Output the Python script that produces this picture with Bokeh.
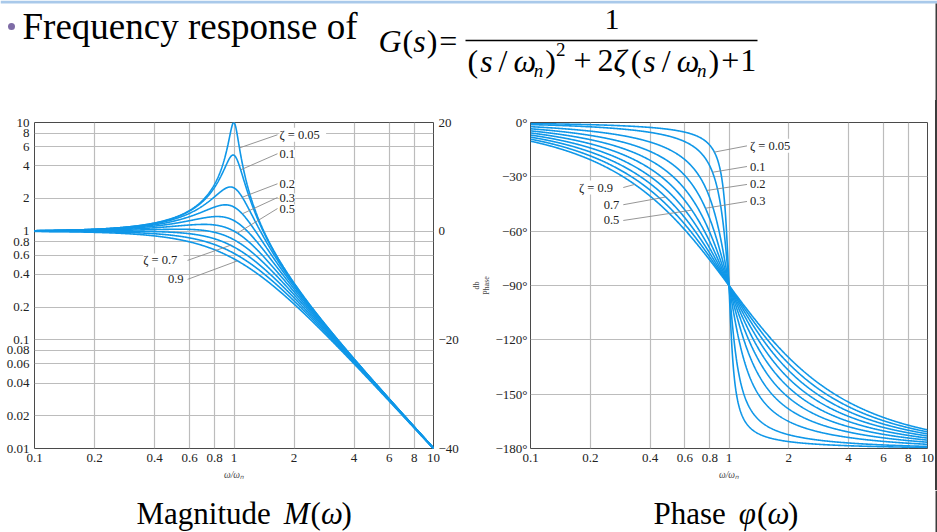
import numpy as np
from bokeh.plotting import figure
from bokeh.layouts import column, row
from bokeh.models import (Range1d, FixedTicker, LinearAxis, LinearScale,
                          CustomJSTickFormatter, Label, ColumnDataSource, Spacer)
from bokeh.core.properties import value
from bokeh.embed import file_html
from bokeh.resources import INLINE

# ---- data -------------------------------------------------------------
zetas = [0.05, 0.1, 0.2, 0.3, 0.4, 0.5, 0.6, 0.7, 0.8, 0.9]
freq_ticks = [0.1, 0.2, 0.4, 0.6, 0.8, 1, 2, 4, 6, 8, 10]
mag_ticks = [0.01, 0.02, 0.04, 0.06, 0.08, 0.1, 0.2, 0.4, 0.6, 0.8, 1, 2, 4, 6, 8, 10]
db_ticks = [-40, -20, 0, 20]
phase_ticks = [-180, -150, -120, -90, -60, -30, 0]

# callouts: damping ratio, text, frequency where the leader meets the curve
mag_right_zeta = [0.05, 0.1, 0.2, 0.3, 0.5]
mag_right_text = ["ζ  =  0.05", "0.1", "0.2", "0.3", "0.5"]
mag_right_w = [1.065, 1.08, 1.1, 1.1, 1.04]
mag_left_zeta = [0.7, 0.9]
mag_left_text = ["ζ  =  0.7", "0.9"]
mag_left_w = [0.961, 1.041]

ph_right_zeta = [0.05, 0.1, 0.2, 0.3]
ph_right_text = ["ζ  =  0.05", "0.1", "0.2", "0.3"]
ph_right_w = [0.844, 0.826, 0.773, 0.761]
ph_left_zeta = [0.9, 0.7, 0.5]
ph_left_text = ["ζ  =  0.9", "0.7", "0.5"]
ph_left_w = [0.335, 0.48, 0.65]

FONT = "Liberation Serif"
BLUE = "#0f97e8"
GRID = "#bcbcbc"
LEADER = "#8a8a8a"
EDGE = "#3c3c3c"
TICK_SIZE = "13px"


def mag(z, w):
    w = np.asarray(w, dtype=float)
    return 1.0 / np.sqrt((1 - w ** 2) ** 2 + (2 * z * w) ** 2)


def phase(z, w):
    w = np.asarray(w, dtype=float)
    return -np.degrees(np.arctan2(2 * z * w, 1 - w ** 2))


w = np.logspace(-1, 1, 900)

fmt_plain = CustomJSTickFormatter(code="return tick.toString();")
fmt_db = CustomJSTickFormatter(code="return tick < 0 ? '−' + (-tick) : '' + tick;")
fmt_deg = CustomJSTickFormatter(code="return (tick < 0 ? '−' + (-tick) : '' + tick) + '°';")


def style_axes(p):
    p.title.visible = False
    for ax in p.axis:
        ax.axis_line_color = None
        ax.major_tick_line_color = None
        ax.minor_tick_line_color = None
        ax.major_tick_out = 0
        ax.major_tick_in = 0
        ax.minor_tick_out = 0
        ax.minor_tick_in = 0
        ax.major_label_text_font = FONT
        ax.major_label_text_font_size = TICK_SIZE
        ax.major_label_text_color = "#222222"
        ax.major_label_standoff = 5
    p.grid.grid_line_color = GRID
    p.grid.grid_line_width = 1.2
    p.outline_line_color = "#4a4a4a"
    p.outline_line_width = 1
    p.background_fill_color = "white"
    p.border_fill_color = "white"


def freq_label(ax):
    ax.axis_label = "ω/ωₙ"
    ax.axis_label_text_font = FONT
    ax.axis_label_text_font_size = "9.5px"
    ax.axis_label_text_font_style = "italic"
    ax.axis_label_standoff = 5


def callouts(p, zs, texts, ws, anchor_x, anchor_ys, fn, offset, align):
    x0 = list(ws)
    y0 = [float(fn(z, wv)) for z, wv in zip(zs, ws)]
    x1 = [anchor_x] * len(zs)
    p.segment(x0=x0, y0=y0, x1=x1, y1=anchor_ys, line_color=LEADER, line_width=0.9)
    for t, ay in zip(texts, anchor_ys):
        p.add_layout(Label(x=anchor_x, y=ay, text=t, x_offset=offset,
                           text_align=align, text_baseline="middle",
                           text_font=FONT, text_font_size="12.5px",
                           text_color="#222222",
                           background_fill_color="white"))


# ---- magnitude ----------------------------------------------------------
pm = figure(x_axis_type="log", y_axis_type="log",
            x_range=Range1d(0.1, 10), y_range=Range1d(0.01, 10),
            width=468, height=390,
            min_border_left=34, min_border_right=35,
            min_border_top=22, min_border_bottom=42,
            toolbar_location=None, output_backend="svg")
pm.xaxis.ticker = FixedTicker(ticks=freq_ticks)
pm.yaxis.ticker = FixedTicker(ticks=mag_ticks)
pm.xaxis.formatter = fmt_plain
pm.yaxis.formatter = fmt_plain
pm.xgrid.ticker = FixedTicker(ticks=freq_ticks)
pm.ygrid.ticker = FixedTicker(ticks=mag_ticks)
pm.extra_y_ranges = {"db": Range1d(-40, 20)}
pm.extra_y_scales = {"db": LinearScale()}
db_axis = LinearAxis(y_range_name="db", ticker=FixedTicker(ticks=db_ticks), formatter=fmt_db)
pm.add_layout(db_axis, "right")
freq_label(pm.xaxis[0])
style_axes(pm)

pm.multi_line(xs=[w] * len(zetas), ys=[mag(z, w) for z in zetas],
              line_color=BLUE, line_width=1.6)

callouts(pm, mag_right_zeta, mag_right_text, mag_right_w, 1.652,
         [7.71, 5.16, 2.73, 2.04, 1.615], mag, 2, "left")
callouts(pm, mag_left_zeta, mag_left_text, mag_left_w, 0.585,
         [0.5385, 0.36], mag, -4, "right")

# ---- phase --------------------------------------------------------------
pp = figure(x_axis_type="log",
            x_range=Range1d(0.1, 10), y_range=Range1d(-180, 0),
            width=467, height=390,
            min_border_left=61, min_border_right=8,
            min_border_top=22, min_border_bottom=42,
            toolbar_location=None, output_backend="svg")
pp.xaxis.ticker = FixedTicker(ticks=freq_ticks)
pp.yaxis.ticker = FixedTicker(ticks=phase_ticks)
pp.xaxis.formatter = fmt_plain
pp.yaxis.formatter = fmt_deg
pp.xgrid.ticker = FixedTicker(ticks=freq_ticks)
pp.ygrid.ticker = FixedTicker(ticks=phase_ticks)
freq_label(pp.xaxis[0])
pp.yaxis.axis_label = "db\nPhase"
pp.yaxis.axis_label_text_font = FONT
pp.yaxis.axis_label_text_font_size = "8px"
pp.yaxis.axis_label_text_font_style = "normal"
pp.yaxis.axis_label_standoff = 1
style_axes(pp)
pp.yaxis.major_label_standoff = 3

pp.multi_line(xs=[w] * len(zetas), ys=[phase(z, w) for z in zetas],
              line_color=BLUE, line_width=1.6)

callouts(pp, ph_right_zeta, ph_right_text, ph_right_w, 1.232,
         [-12.9, -24.3, -34.2, -43.6], phase, 3, "left")
callouts(pp, ph_left_zeta, ph_left_text, ph_left_w, 0.2934,
         [-35.9, -45.4, -54.1], phase, -4, "right")

# ---- text runs for the heading and captions ------------------------------
REG = {" ": 250, "(": 333, ")": 333, "/": 278, "+": 564, "=": 564, "1": 500,
       "2": 500, "•": 350}
ITA = {"G": 722, "s": 389, "n": 500, "M": 833, "ω": 667, "ζ": 440, "φ": 560}
LIFT = 0.31  # glyph baseline correction, in em


def layout_runs(x, runs):
    """runs: (text, italic, size, baseline_y, gap_after) -> rows for a text glyph."""
    rows = dict(x=[], y=[], text=[], style=[], size=[])
    for text, italic, size, y, gap in runs:
        rows["x"].append(x)
        rows["y"].append(y - LIFT * size)
        rows["text"].append(text)
        rows["style"].append("italic" if italic else "normal")
        rows["size"].append(f"{size}px")
        table = ITA if italic else REG
        x += sum(table.get(ch, REG.get(ch, 500)) for ch in text) / 1000 * size + gap
    return rows


def blank(width, height, y0, y1):
    f = figure(width=width, height=height, x_range=Range1d(0, width),
               y_range=Range1d(y1, y0), min_border=0,
               x_axis_location=None, y_axis_location=None,
               toolbar_location=None, output_backend="svg")
    f.title.visible = False
    f.grid.visible = False
    f.outline_line_color = None
    f.background_fill_color = "white"
    return f


def draw_runs(f, rows):
    f.text(x="x", y="y", text="text", source=ColumnDataSource(rows),
           text_font=value(FONT), text_font_size="size", text_font_style="style",
           text_color="black", text_baseline="alphabetic")


head = blank(937, 100, 0, 100)
head.quad(left=0, right=937, top=0, bottom=3, fill_color="#a9c9ea", line_color=None)
head.quad(left=935, right=937, top=3, bottom=100, fill_color=EDGE, line_color=None)
head.scatter(x=[11], y=[26], size=7, marker="circle", fill_color="#7e6ca6", line_color=None)
draw_runs(head, layout_runs(22, [("Frequency response of", False, 37, 37, 0)]))

BASE = 70
S, SS = 32, 19
draw_runs(head, layout_runs(378, [("G", True, 32, 50, 1), ("(", False, 32, 50, 0),
                                  ("s", True, 32, 50, 1), (")", False, 32, 50, 2),
                                  ("=", False, 32, 50, 0)]))
draw_runs(head, layout_runs(467, [("(", False, S, BASE, 2), ("s", True, S, BASE, 6),
                                  ("/", False, S, BASE, 6), ("ω", True, S, BASE, -1),
                                  ("n", True, SS, BASE + 6, 2), (")", False, S, BASE, 0),
                                  ("2", False, SS, BASE - 15, 8), ("+", False, S, BASE, 6),
                                  ("2", False, S, BASE, 0), ("ζ", True, S, BASE, 3),
                                  ("(", False, S, BASE, 2), ("s", True, S, BASE, 6),
                                  ("/", False, S, BASE, 6), ("ω", True, S, BASE, -1),
                                  ("n", True, SS, BASE + 6, 2), (")", False, S, BASE, 2),
                                  ("+", False, S, BASE, 1), ("1", False, S, BASE, 0)]))
draw_runs(head, layout_runs(604, [("1", False, 30, 28, 0)]))
head.segment(x0=[465], y0=[40], x1=[757], y1=[40], line_color="black", line_width=1.4)

edge = Spacer(width=2, height=390, styles={"background-color": EDGE})

foot = blank(937, 42, 490, 532)
foot.quad(left=935, right=937, top=490, bottom=532, fill_color=EDGE, line_color=None)
draw_runs(foot, layout_runs(136, [("Magnitude ", False, 31, 523, 0), ("M", True, 31, 523, 1),
                                  ("(", False, 31, 523, 0), ("ω", True, 31, 523, 0),
                                  (")", False, 31, 523, 0)]))
draw_runs(foot, layout_runs(653, [("Phase ", False, 31, 523, 0), ("φ", True, 31, 523, 1),
                                  ("(", False, 31, 523, 0), ("ω", True, 31, 523, 0),
                                  (")", False, 31, 523, 0)]))

page = column(head, row(pm, pp, edge), foot)
open("out.html", "w").write(file_html(page, INLINE))
